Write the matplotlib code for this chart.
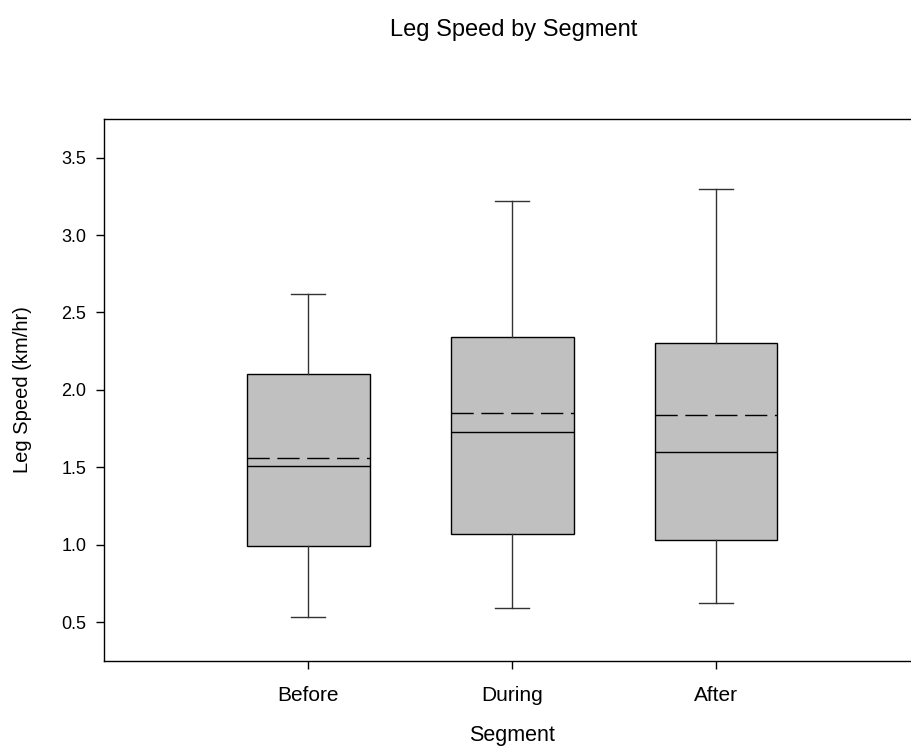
import matplotlib
matplotlib.use('Agg')
import matplotlib.pyplot as plt

# box statistics
segments = ['Before', 'During', 'After']
whisker_low = [0.53, 0.59, 0.62]
q1 = [0.99, 1.07, 1.03]
median = [1.51, 1.73, 1.60]
mean = [1.56, 1.85, 1.84]
q3 = [2.10, 2.34, 2.30]
whisker_high = [2.62, 3.22, 3.30]

plt.rcParams['font.family'] = ['Liberation Sans', 'DejaVu Sans']

fig = plt.figure(figsize=(9.11, 7.54), dpi=100)
ax = fig.add_axes([104.3 / 911, 93.3 / 754, 816 / 911, 541.7 / 754])

stats = []
for i, name in enumerate(segments):
    stats.append({'label': name, 'whislo': whisker_low[i], 'q1': q1[i],
                  'med': median[i], 'mean': mean[i], 'q3': q3[i],
                  'whishi': whisker_high[i], 'fliers': []})

ax.bxp(stats, positions=[1, 2, 3], widths=0.6, patch_artist=True,
       showmeans=True, meanline=True, showfliers=False,
       boxprops=dict(facecolor='#c0c0c0', edgecolor='black', linewidth=1.0),
       medianprops=dict(color='black', linewidth=1.0),
       meanprops=dict(color='black', linewidth=1.0, linestyle=(0, (16, 5.5))),
       whiskerprops=dict(color='#333333', linewidth=1.0),
       capprops=dict(color='#333333', linewidth=1.0),
       capwidths=0.165)

ax.set_xlim(0, 4)
ax.set_ylim(0.25, 3.75)
ax.set_yticks([0.5, 1.0, 1.5, 2.0, 2.5, 3.0, 3.5])
ax.set_yticklabels(['0.5', '1.0', '1.5', '2.0', '2.5', '3.0', '3.5'])
ax.set_xticks([1, 2, 3])
ax.set_xticklabels(segments)
ax.tick_params(axis='both', direction='out', length=6, width=1, colors='black')
ax.tick_params(axis='y', labelsize=13, pad=7)
ax.tick_params(axis='x', labelsize=15, pad=12.5)
ax.spines['right'].set_visible(False)
for s in ['left', 'top', 'bottom']:
    ax.spines[s].set_linewidth(1.0)

ax.set_xlabel('Segment', fontsize=15.5, labelpad=14)
ax.set_ylabel('Leg Speed (km/hr)', fontsize=14.5, labelpad=21)
fig.text(514 / 911, 1 - 30 / 754, 'Leg Speed by Segment', fontsize=17, ha='center', va='center')

fig.savefig('out.png', dpi=100)
